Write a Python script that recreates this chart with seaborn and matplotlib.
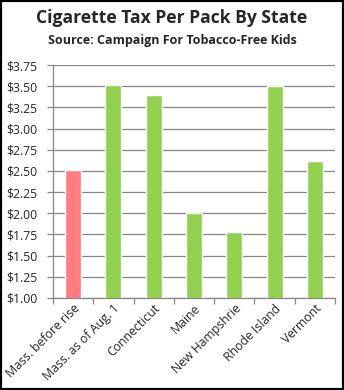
import matplotlib
matplotlib.use("Agg")
import matplotlib.pyplot as plt
from matplotlib.patches import Rectangle
from matplotlib.ticker import FuncFormatter, MultipleLocator
import seaborn as sns
import pandas as pd

states = ["Mass. before rise", "Mass. as of Aug. 1", "Connecticut", "Maine",
          "New Hampshrie", "Rhode Island", "Vermont"]
tax = [2.51, 3.51, 3.40, 2.00, 1.78, 3.50, 2.62]
bar_colors = ["#FF7C80", "#92D050", "#92D050", "#92D050", "#92D050", "#92D050", "#92D050"]

sns.set_theme(style="white")
plt.rcParams["font.family"] = ["Open Sans", "DejaVu Sans"]

df = pd.DataFrame({"state": states, "tax": tax})

fig = plt.figure(figsize=(3.44, 3.90), dpi=100)
ax = fig.add_axes([0.154, 0.236, 0.820, 0.597])

sns.barplot(data=df, x="state", y="tax", hue="state", palette=bar_colors,
            width=0.4, legend=False, ax=ax, zorder=3, saturation=1)

ax.set_ylim(1.0, 3.75)
ax.set_xlim(-0.5, len(states) - 0.5)
ax.yaxis.set_major_locator(MultipleLocator(0.25))
ax.yaxis.set_major_formatter(FuncFormatter(lambda v, p: f"${v:.2f}"))
ax.grid(axis="y", color="#868686", linewidth=0.9, zorder=0)
ax.set_axisbelow(True)

for s in ["top", "right"]:
    ax.spines[s].set_visible(False)
for s in ["left", "bottom"]:
    ax.spines[s].set_color("#868686")
    ax.spines[s].set_linewidth(0.9)

ax.tick_params(axis="y", which="major", direction="out", length=4, width=0.9,
               color="#868686", labelsize=8.8, pad=7, left=True)
ax.set_xticks([i - 0.5 for i in range(len(states) + 1)], minor=True)
ax.tick_params(axis="x", which="minor", direction="out", length=4, width=0.9,
               color="#868686", bottom=True)
ax.tick_params(axis="x", which="major", length=0, labelsize=8.8, pad=3)
ax.set_xticks(range(len(states)))
ax.set_xticklabels(states, rotation=45, ha="right", rotation_mode="anchor")
ax.set_xlabel("")
ax.set_ylabel("")

fig.text(0.5, 0.953, "Cigarette Tax Per Pack By State", ha="center", va="center",
         fontsize=12.6, fontweight="bold")
fig.text(0.5, 0.897, "Source: Campaign For Tobacco-Free Kids", ha="center", va="center",
         fontsize=9, fontweight="bold")

fig.patches.append(Rectangle((0, 0), 1, 1, transform=fig.transFigure, fill=False,
                             edgecolor="black", linewidth=3, zorder=10))

fig.savefig("out.png", dpi=100)
